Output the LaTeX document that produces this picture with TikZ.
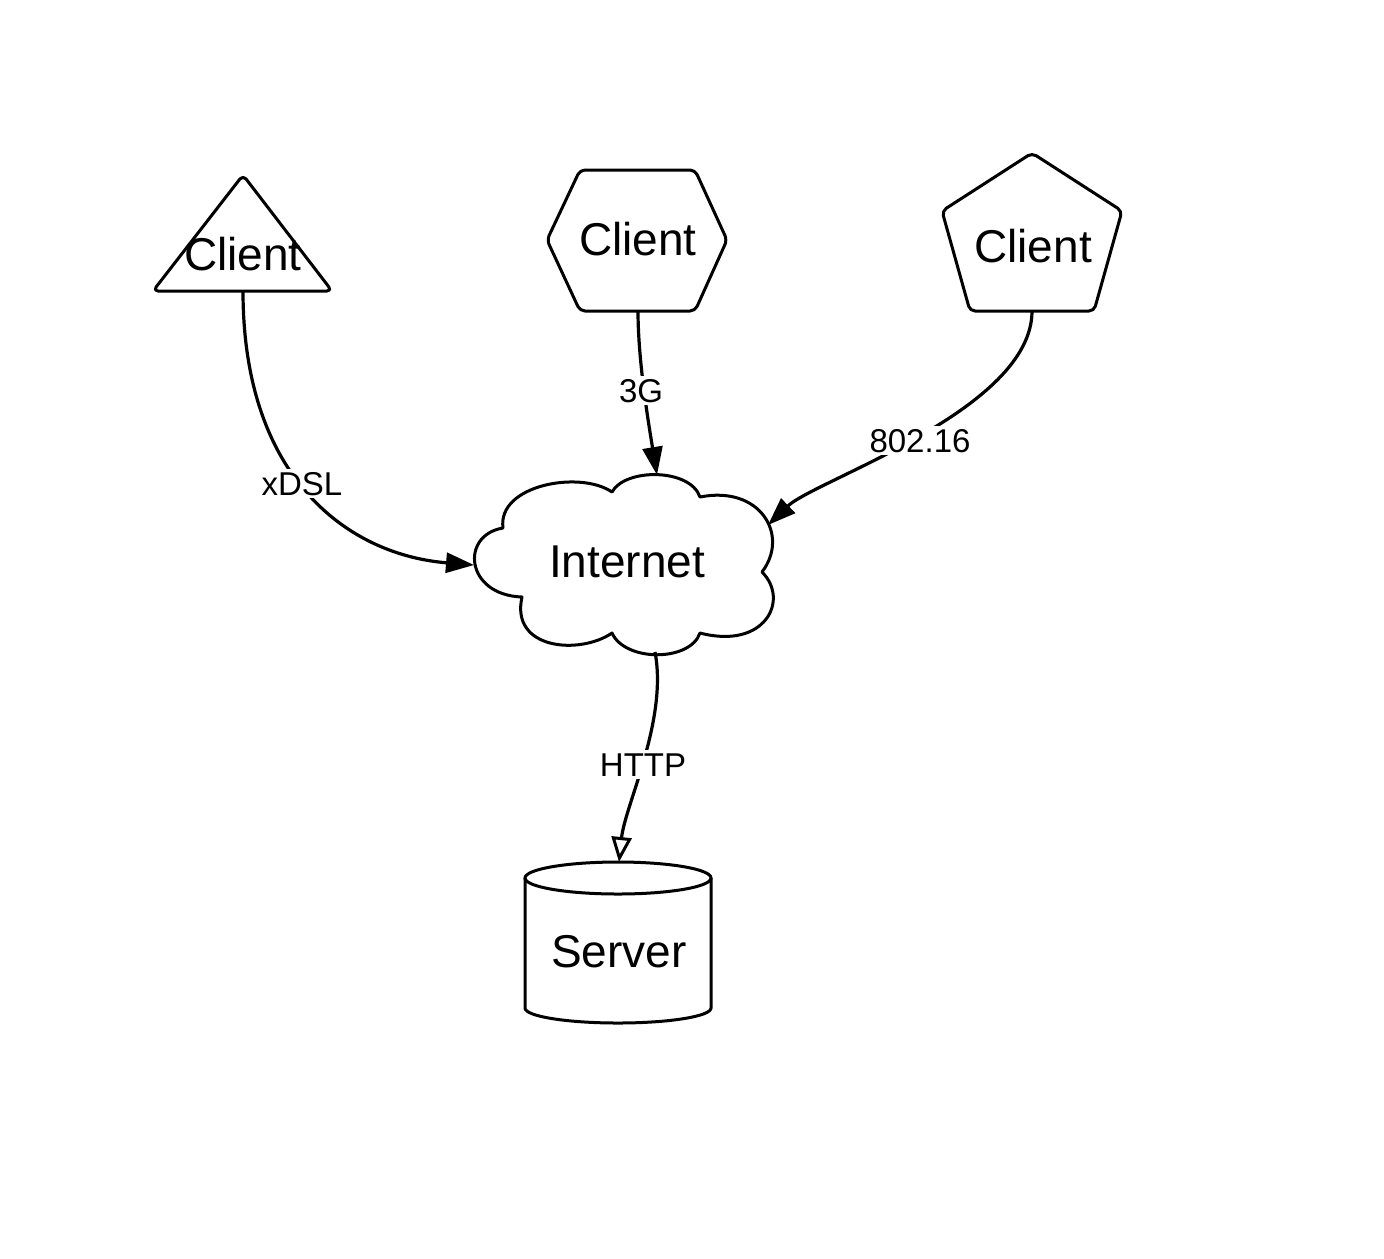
\documentclass[tikz,border=0pt]{standalone}
\usepackage{fontspec}
\setmainfont{Liberation Sans}
\usetikzlibrary{arrows.meta}
\begin{document}
\begin{tikzpicture}[x=0.5pt,y=0.5pt,
  shapeline/.style={line width=1.5pt, rounded corners=2.5pt, line join=round},
  conn/.style={line width=1.6pt},
  filledhead/.style={conn, -{Triangle[length=14pt,width=10pt]}},
  openhead/.style={conn, -{Triangle[open,length=12.5pt,width=10pt,line width=1.5pt]}},
  bigtext/.style={font=\fontsize{23pt}{27pt}\selectfont, inner sep=0pt, anchor=base},
  lbl/.style={font=\fontsize{16.5pt}{19pt}\selectfont, fill=white, inner sep=1.5pt, anchor=base}]
\useasboundingbox (0,0) rectangle (1384,-1258);

% triangle client
\draw[shapeline] (243,-175) -- (332,-291) -- (153,-291) -- cycle;
\node[bigtext] (c1) at (243,-270) {Client};
\coordinate (c1s) at (243,-291);

% hexagon client
\draw[shapeline] (547,-240) -- (580,-170) -- (695,-170) -- (727,-240) -- (695,-311) -- (580,-311) -- cycle;
\node[bigtext] (c2) at (638,-255) {Client};
\coordinate (c2s) at (638,-311);

% pentagon client
\draw[shapeline] (1032,-153) -- (1122,-211) -- (1094,-311) -- (970,-311) -- (942,-211) -- cycle;
\node[bigtext] (c3) at (1033,-262) {Client};
\coordinate (c3s) at (1032,-311);

% cloud
\draw[line width=1.5pt, line join=round]
  (503,-528) .. controls (497,-485) and (580,-470) .. (612,-492)
  .. controls (625,-468) and (690,-468) .. (700,-497)
  .. controls (760,-485) and (790,-535) .. (762,-572)
  .. controls (790,-600) and (765,-650) .. (700,-633)
  .. controls (690,-662) and (625,-662) .. (612,-633)
  .. controls (580,-655) and (510,-650) .. (522,-597)
  .. controls (465,-595) and (460,-535) .. cycle;
\node[bigtext] (inet) at (627,-577) {Internet};
\coordinate (inL) at (474,-565);
\coordinate (inT) at (657,-475);
\coordinate (inR) at (768,-525);
\coordinate (inB) at (655,-652);

% server cylinder
\draw[line width=1.5pt] (525,-878) -- (525,-1008) arc[start angle=180,end angle=360,x radius=93,y radius=15] -- (711,-878);
\draw[line width=1.5pt] (618,-878) ellipse[x radius=93,y radius=16];
\node[bigtext] (srv) at (619,-967) {Server};
\coordinate (srvT) at (619,-862);

% connectors
\draw[filledhead] (c1s) .. controls (243,-480) and (350,-555) .. (inL);
\draw[filledhead] (c2s) .. controls (638,-360) and (648,-420) .. (inT);
\draw[filledhead] (c3s) .. controls (1032,-410) and (815,-480) .. (inR);
\draw[openhead] (inB) .. controls (668,-720) and (625,-805) .. (srvT);

% labels
\node[lbl] (l1) at (302,-495) {xDSL};
\node[lbl] (l2) at (641,-402) {3G};
\node[lbl] (l3) at (920,-452) {802.16};
\node[lbl] (l4) at (643,-776) {HTTP};
\end{tikzpicture}
\end{document}
